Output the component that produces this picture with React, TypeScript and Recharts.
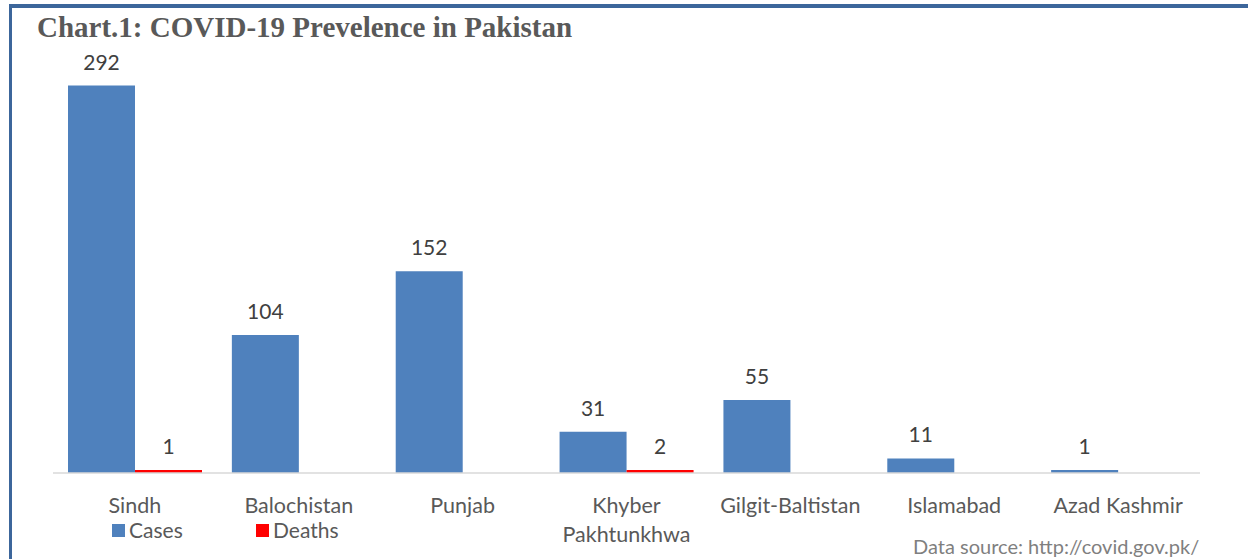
import React from "react";
import { Bar, BarChart, LabelList, Legend, XAxis, YAxis } from "recharts";

const provinces = [
  "Sindh",
  "Balochistan",
  "Punjab",
  "Khyber Pakhtunkhwa",
  "Gilgit-Baltistan",
  "Islamabad",
  "Azad Kashmir",
];
const cases = [292, 104, 152, 31, 55, 11, 1];
const deaths = [1, 0, 0, 2, 0, 0, 0];

const CASES = "#4f81bd";
const DEATHS = "#ff0000";
const LABEL = "#404040";
const AXIS_TEXT = "#595959";
const FONT = "Lato, 'Open Sans', sans-serif";

const rows = provinces.map((name, i) => ({
  name,
  cases: cases[i],
  deaths: deaths[i],
}));

// greedy word wrap so long names break inside the band (Khyber / Pakhtunkhwa)
function wrap(label: string, maxChars = 16) {
  const lines: string[] = [];
  let cur = "";
  for (const w of label.split(" ")) {
    const next = cur ? cur + " " + w : w;
    if (next.length > maxChars && cur) {
      lines.push(cur);
      cur = w;
    } else {
      cur = next;
    }
  }
  if (cur) lines.push(cur);
  return lines;
}

function ProvinceTick(props: any) {
  const { x, y, payload } = props;
  const lines = wrap(String(payload.value));
  return (
    <text
      x={x}
      y={y + 40}
      textAnchor="middle"
      fill={AXIS_TEXT}
      style={{ fontFamily: FONT, fontSize: 21.5 }}
    >
      {lines.map((l, i) => (
        <tspan key={i} x={x} dy={i === 0 ? 0 : 29}>
          {l}
        </tspan>
      ))}
    </text>
  );
}

function SeriesKey() {
  const items = [
    { label: "Cases", color: CASES, left: 0 },
    { label: "Deaths", color: DEATHS, left: 144 },
  ];
  return (
    <div style={{ position: "relative", height: 26, fontFamily: FONT, fontSize: 21, color: AXIS_TEXT }}>
      {items.map((it) => (
        <div
          key={it.label}
          style={{ position: "absolute", left: it.left, top: 0, display: "flex", alignItems: "center", lineHeight: "26px" }}
        >
          <span style={{ width: 13, height: 13, background: it.color, display: "inline-block", marginRight: 4 }} />
          <span>{it.label}</span>
        </div>
      ))}
    </div>
  );
}

const hideZero = (v: any) => (Number(v) > 0 ? v : "");
// keep one-unit bars visible as a thin coloured line above the axis
const thinFloor = (v: any) => (Number(v) > 0 ? 3 : 0);

export default function App() {
  return (
    <div
      style={{
        position: "fixed",
        left: 0,
        top: 0,
        width: 1248,
        height: 559,
        background: "#fff",
        overflow: "hidden",
      }}
    >
      <div
        style={{
          position: "absolute",
          left: 9,
          top: 4,
          width: 1239,
          height: 555,
          borderTop: "4px solid #3c669b",
          borderLeft: "3px solid #3c669b",
          boxSizing: "border-box",
        }}
      />
      <BarChart
        width={1248}
        height={559}
        data={rows}
        margin={{ top: 75, right: 48, bottom: 0, left: 53 }}
        barCategoryGap={15}
        barGap={0}
      >
        <XAxis
          dataKey="name"
          height={86}
          interval={0}
          tickLine={false}
          tickSize={0}
          tickMargin={0}
          axisLine={{ stroke: "#d9d9d9", strokeWidth: 1.5 }}
          tick={<ProvinceTick />}
        />
        <YAxis hide width={0} domain={[0, 300]} />
        <Legend
          layout="horizontal"
          verticalAlign="middle"
          align="center"
          wrapperStyle={{ position: "absolute", left: 112, top: 517, width: 260, height: 26 }}
          content={() => <SeriesKey />}
        />
        <Bar dataKey="cases" name="Cases" fill={CASES} minPointSize={thinFloor} isAnimationActive={false}>
          <LabelList
            dataKey="cases"
            position="top"
            offset={16}
            formatter={hideZero}
            style={{ fill: LABEL, fontSize: 21, fontFamily: FONT }}
          />
        </Bar>
        <Bar dataKey="deaths" name="Deaths" fill={DEATHS} minPointSize={thinFloor} isAnimationActive={false}>
          <LabelList
            dataKey="deaths"
            position="top"
            offset={16}
            formatter={hideZero}
            style={{ fill: LABEL, fontSize: 21, fontFamily: FONT }}
          />
        </Bar>
      </BarChart>
      <svg
        width={1248}
        height={559}
        style={{ position: "absolute", left: 0, top: 0, pointerEvents: "none" }}
      >
        <text
          x={37}
          y={37}
          fill="#595959"
          style={{ fontFamily: "'Liberation Serif', 'Times New Roman', serif", fontSize: 29, fontWeight: 700 }}
        >
          Chart.1: COVID-19 Prevelence in Pakistan
        </text>
        <text
          x={913}
          y={554}
          fill="#7f7f7f"
          style={{ fontFamily: FONT, fontSize: 20 }}
        >
          Data source: http://covid.gov.pk/
        </text>
      </svg>
    </div>
  );
}
